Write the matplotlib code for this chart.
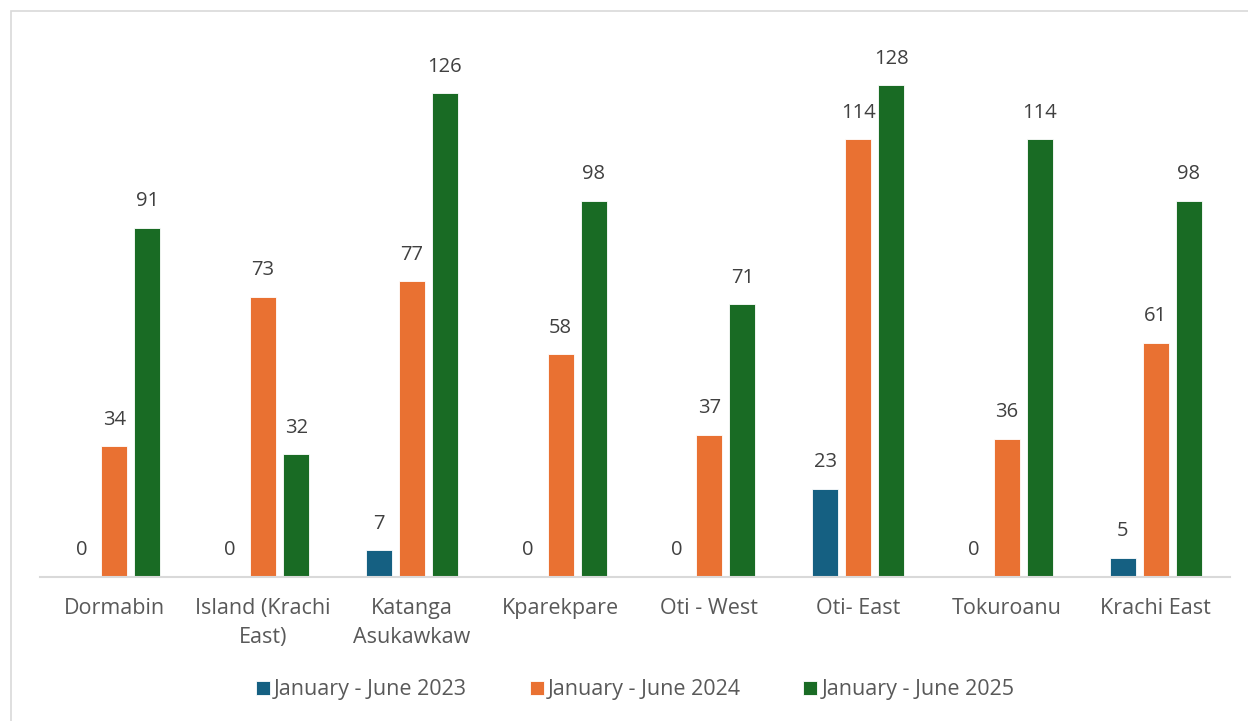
import matplotlib.pyplot as plt
from matplotlib.patches import Rectangle
import numpy as np

plt.rcParams['font.family'] = ['Open Sans', 'DejaVu Sans']

# 数据
districts = ['Dormabin', 'Island (Krachi\nEast)', 'Katanga\nAsukawkaw', 'Kparekpare',
             'Oti - West', 'Oti- East', 'Tokuroanu', 'Krachi East']
series_names = ['January - June 2023', 'January - June 2024', 'January - June 2025']
cases_2023 = [0, 0, 7, 0, 0, 23, 0, 5]
cases_2024 = [34, 73, 77, 58, 37, 114, 36, 61]
cases_2025 = [91, 32, 126, 98, 71, 128, 114, 98]
colors = ['#156082', '#E97132', '#196B24']

text_color = '#595959'

fig = plt.figure(figsize=(12.48, 7.21), dpi=100)
# 外框（右边和下边超出画面）
fig.add_artist(Rectangle((11 / 1248, -0.05), 1.1, (721 - 11) / 721 + 0.05, transform=fig.transFigure,
                         fill=False, edgecolor='#d9d9d9', linewidth=1.2, clip_on=False))

ax = fig.add_axes([40 / 1248, 144 / 721, 1190 / 1248, 537.6 / 721])
x = np.arange(len(districts))
width = 0.175
step = 0.222

for i, (vals, c, name) in enumerate(zip([cases_2023, cases_2024, cases_2025], colors, series_names)):
    pos = x + (i - 1) * step
    ax.bar(pos, vals, width, color=c, edgecolor='white', linewidth=0.6, label=name)
    for xx, v in zip(pos, vals):
        ax.text(xx, v + 4.3, str(v), ha='center', va='bottom', fontsize=14.5, color='#404040')

ax.set_xlim(-0.5, len(districts) - 0.5)
ax.set_ylim(0, 140)
ax.set_yticks([])
ax.set_xticks(x)
ax.set_xticklabels(districts, fontsize=15.5, color=text_color, linespacing=1.5)
ax.tick_params(axis='x', length=0, pad=15)
for s in ['top', 'right', 'left']:
    ax.spines[s].set_visible(False)
ax.spines['bottom'].set_color('#d9d9d9')
ax.spines['bottom'].set_linewidth(1.5)

leg = fig.legend(loc='center', bbox_to_anchor=(0.509, 31 / 721), ncol=3, frameon=False,
                 fontsize=15.5, handlelength=0.65, handleheight=0.65, handletextpad=0.2,
                 columnspacing=2.9)
for t in leg.get_texts():
    t.set_color(text_color)

fig.savefig('out.png', dpi=100)
